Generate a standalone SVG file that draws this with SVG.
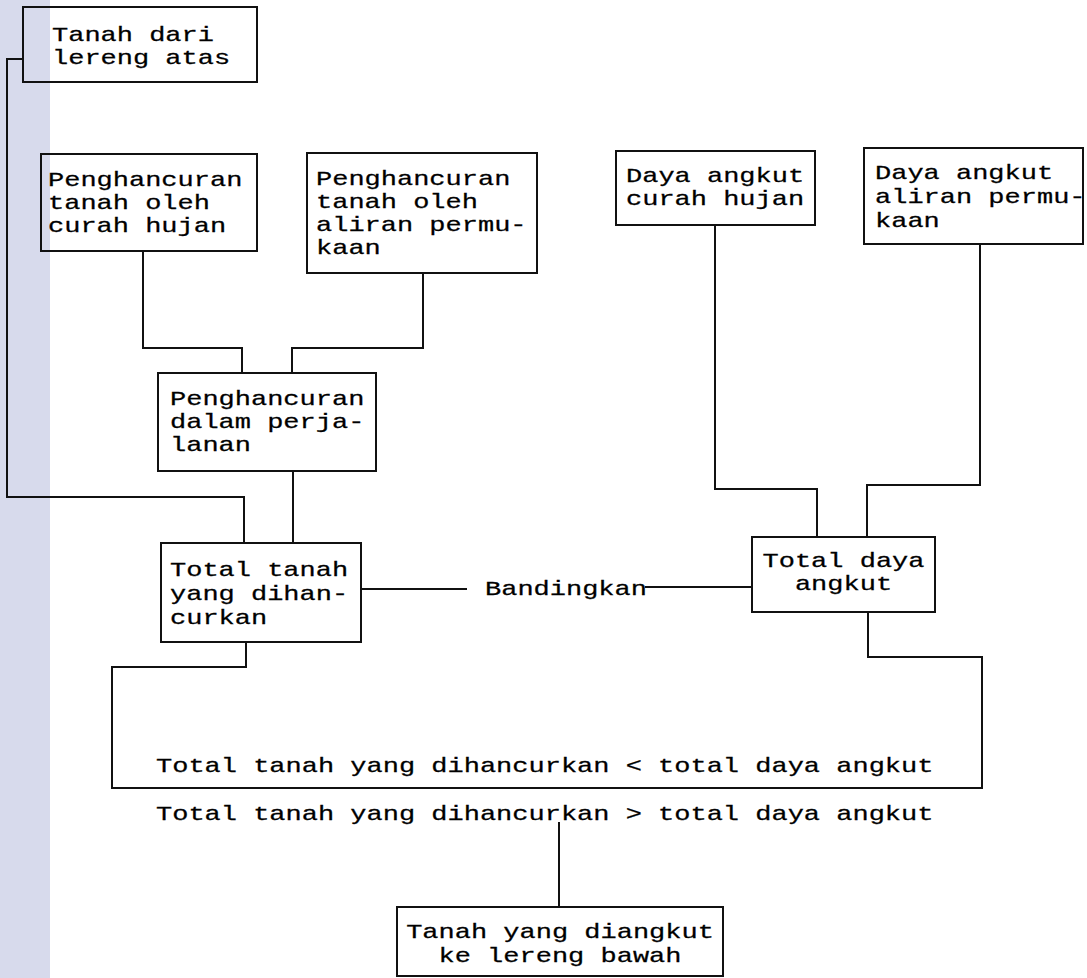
<svg xmlns="http://www.w3.org/2000/svg" width="1087" height="978" viewBox="0 0 1087 978">
<style>
.bg{fill:#ffffff}
.strip{fill:#d7daec}
.box{fill:none;stroke:#111;stroke-width:2}
.con{fill:none;stroke:#111;stroke-width:2}
.t{font-family:"Liberation Mono","DejaVu Sans Mono",monospace;font-size:20px;fill:#000;stroke:#000;stroke-width:0.25}
.c{text-anchor:middle}
</style>
<rect class="bg" x="0" y="0" width="1087" height="978"/>
<rect class="strip" x="0" y="0" width="50" height="978"/>
<g id="connectors">
<polyline class="con" points="23,59 7,59 7,497 244,497 244,543"/>
<polyline class="con" points="143,251 143,348 242,348 242,373"/>
<polyline class="con" points="423,273 423,348 292,348 292,373"/>
<polyline class="con" points="293,471 293,543"/>
<polyline class="con" points="361,589 467,589"/>
<polyline class="con" points="645,587 751,587"/>
<polyline class="con" points="715,225 715,489 817,489 817,537"/>
<polyline class="con" points="980,244 980,485 867,485 867,537"/>
<polyline class="con" points="246,642 246,667 112,667 112,788 982,788 982,657 868,657 868,612"/>
<polyline class="con" points="559,822 559,907"/>
<text class="t" transform="translate(485,595) scale(1.35,1)">Bandingkan</text>
<text class="t" transform="translate(156,772) scale(1.35,1)">Total tanah yang dihancurkan &lt; total daya angkut</text>
<text class="t" transform="translate(156,820) scale(1.35,1)">Total tanah yang dihancurkan &gt; total daya angkut</text>
</g>
<g id="node-tanah-dari-lereng-atas">
<rect class="box" x="23" y="7" width="234" height="75"/>
<text class="t" transform="translate(52,41) scale(1.35,1)">Tanah dari</text>
<text class="t" transform="translate(52,64) scale(1.35,1)">lereng atas</text>
</g>
<g id="node-penghancuran-curah-hujan">
<rect class="box" x="41" y="154" width="216" height="97"/>
<text class="t" transform="translate(48,186) scale(1.35,1)">Penghancuran</text>
<text class="t" transform="translate(48,209) scale(1.35,1)">tanah oleh</text>
<text class="t" transform="translate(48,232) scale(1.35,1)">curah hujan</text>
</g>
<g id="node-penghancuran-aliran-permukaan">
<rect class="box" x="307" y="153" width="230" height="120"/>
<text class="t" transform="translate(316,185) scale(1.35,1)">Penghancuran</text>
<text class="t" transform="translate(316,208) scale(1.35,1)">tanah oleh</text>
<text class="t" transform="translate(316,231) scale(1.35,1)">aliran permu-</text>
<text class="t" transform="translate(316,254) scale(1.35,1)">kaan</text>
</g>
<g id="node-penghancuran-dalam-perjalanan">
<rect class="box" x="158" y="373" width="218" height="98"/>
<text class="t" transform="translate(170,405) scale(1.35,1)">Penghancuran</text>
<text class="t" transform="translate(170,428) scale(1.35,1)">dalam perja-</text>
<text class="t" transform="translate(170,451) scale(1.35,1)">lanan</text>
</g>
<g id="node-total-tanah-dihancurkan">
<rect class="box" x="161" y="543" width="200" height="99"/>
<text class="t" transform="translate(170,576) scale(1.35,1)">Total tanah</text>
<text class="t" transform="translate(170,600) scale(1.35,1)">yang dihan-</text>
<text class="t" transform="translate(170,624) scale(1.35,1)">curkan</text>
</g>
<g id="node-daya-angkut-curah-hujan">
<rect class="box" x="616" y="151" width="199" height="74"/>
<text class="t" transform="translate(626,182) scale(1.35,1)">Daya angkut</text>
<text class="t" transform="translate(626,205) scale(1.35,1)">curah hujan</text>
</g>
<g id="node-daya-angkut-aliran-permukaan">
<rect class="box" x="864" y="148" width="219" height="96"/>
<text class="t" transform="translate(875,179) scale(1.35,1)">Daya angkut</text>
<text class="t" transform="translate(875,203) scale(1.35,1)">aliran permu-</text>
<text class="t" transform="translate(875,227) scale(1.35,1)">kaan</text>
</g>
<g id="node-total-daya-angkut">
<rect class="box" x="752" y="537" width="183" height="75"/>
<text class="t c" transform="translate(843.5,567) scale(1.35,1)">Total daya</text>
<text class="t c" transform="translate(843.5,590) scale(1.35,1)">angkut</text>
</g>
<g id="node-tanah-diangkut-lereng-bawah">
<rect class="box" x="397" y="907" width="326" height="69"/>
<text class="t c" transform="translate(560,938) scale(1.35,1)">Tanah yang diangkut</text>
<text class="t c" transform="translate(560,962) scale(1.35,1)">ke lereng bawah</text>
</g>
</svg>
